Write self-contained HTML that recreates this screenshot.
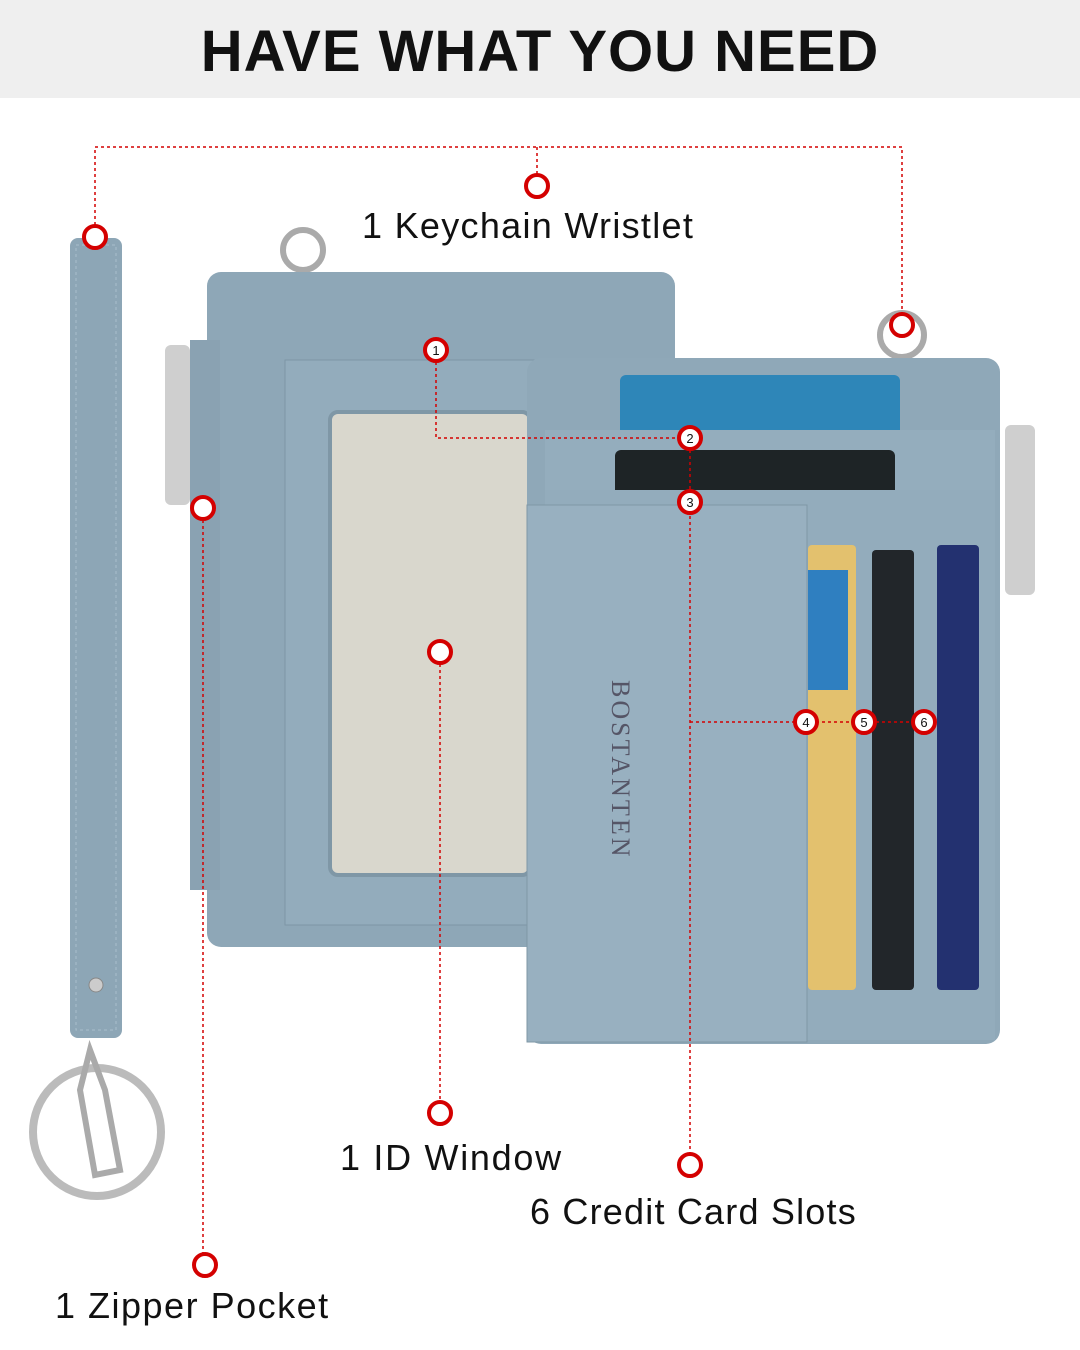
<!DOCTYPE html>
<html><head><meta charset="utf-8"><style>
html,body{margin:0;padding:0}
body{width:1080px;height:1350px;position:relative;background:#fff;overflow:hidden;font-family:"Liberation Sans",sans-serif}
.hdr{position:absolute;left:0;top:0;width:1080px;height:98px;background:#efefef}
.t{position:absolute;white-space:nowrap;color:#111}
</style></head><body>
<div class="hdr"></div>
<div class="t" style="left:0;width:1080px;text-align:center;top:18px;font-size:58px;font-weight:bold;letter-spacing:1px">HAVE WHAT YOU NEED</div>
<svg width="1080" height="1350" style="position:absolute;left:0;top:0">
<!-- strap -->
<rect x="70" y="238" width="52" height="800" rx="8" fill="#8da6b6"/>
<rect x="76" y="245" width="40" height="785" fill="none" stroke="#a9bfcc" stroke-dasharray="3 3"/>
<circle cx="96" cy="985" r="7" fill="#ccc" stroke="#888"/>
<circle cx="97" cy="1132" r="64" fill="none" stroke="#bbb" stroke-width="8"/>
<path d="M90 1050 L80 1090 L95 1175 L120 1170 L105 1090 Z" fill="none" stroke="#aaa" stroke-width="6"/>
<!-- back wallet -->
<circle cx="303" cy="250" r="20" fill="none" stroke="#aaa" stroke-width="6"/>
<rect x="207" y="272" width="468" height="675" rx="14" fill="#8ea7b7"/>
<rect x="190" y="340" width="30" height="550" fill="#8aa2b2"/>
<rect x="165" y="345" width="25" height="160" rx="6" fill="#cfcfcf"/>
<rect x="285" y="360" width="280" height="565" fill="#93acbc" stroke="#7d96a6"/>
<rect x="330" y="412" width="200" height="463" rx="8" fill="#d9d7cd" stroke="#7f97a6" stroke-width="4"/>
<!-- front wallet -->
<circle cx="902" cy="335" r="22" fill="none" stroke="#aaa" stroke-width="6"/>
<rect x="527" y="358" width="473" height="686" rx="14" fill="#8fa8b8"/>
<rect x="1005" y="425" width="30" height="170" rx="6" fill="#cfcfcf"/>
<rect x="620" y="375" width="280" height="70" rx="6" fill="#2e86b8"/>
<rect x="545" y="430" width="450" height="100" fill="#94adbd"/>
<rect x="615" y="450" width="280" height="60" rx="6" fill="#1e2426"/>
<rect x="545" y="490" width="450" height="550" fill="#93acbc"/>
<rect x="808" y="545" width="48" height="445" rx="4" fill="#e3c16e"/>
<rect x="808" y="570" width="40" height="120" fill="#2f7fc0"/>
<rect x="872" y="550" width="42" height="440" rx="4" fill="#22262a"/>
<rect x="937" y="545" width="42" height="445" rx="4" fill="#233170"/>
<rect x="527" y="505" width="280" height="537" fill="#98b0c0" stroke="#7f97a6"/>
<text x="612" y="680" transform="rotate(90 612 680)" font-family="Liberation Serif,serif" font-size="26" fill="#556" letter-spacing="3">BOSTANTEN</text>
<!-- connectors -->
<g fill="none" stroke="#d40000" stroke-width="1.5" stroke-dasharray="3 3">
<path d="M95 237V147H902V325M537 147V186"/>
<path d="M436 350V438H690V1165M690 722H924"/>
<path d="M440 652V1113M203 508V1265"/>
</g>
<g fill="#fff" stroke="#d40000" stroke-width="4">
<circle cx="95" cy="237" r="11"/><circle cx="537" cy="186" r="11"/><circle cx="902" cy="325" r="11"/>
<circle cx="203" cy="508" r="11"/><circle cx="440" cy="652" r="11"/><circle cx="440" cy="1113" r="11"/>
<circle cx="690" cy="1165" r="11"/><circle cx="205" cy="1265" r="11"/>
<circle cx="436" cy="350" r="11"/><circle cx="690" cy="438" r="11"/><circle cx="690" cy="502" r="11"/>
<circle cx="806" cy="722" r="11"/><circle cx="864" cy="722" r="11"/><circle cx="924" cy="722" r="11"/>
</g>
<g font-family="Liberation Sans,sans-serif" font-size="13" text-anchor="middle" fill="#111">
<text x="436" y="355">1</text><text x="690" y="443">2</text><text x="690" y="507">3</text>
<text x="806" y="727">4</text><text x="864" y="727">5</text><text x="924" y="727">6</text>
</g>
</svg>
<div class="t" style="left:362px;top:205px;font-size:36px;letter-spacing:1.3px">1 Keychain Wristlet</div>
<div class="t" style="left:340px;top:1137px;font-size:36px;letter-spacing:1.7px">1 ID Window</div>
<div class="t" style="left:530px;top:1191px;font-size:36px;letter-spacing:1.2px">6 Credit Card Slots</div>
<div class="t" style="left:55px;top:1285px;font-size:36px;letter-spacing:1.5px">1 Zipper Pocket</div>
</body></html>
